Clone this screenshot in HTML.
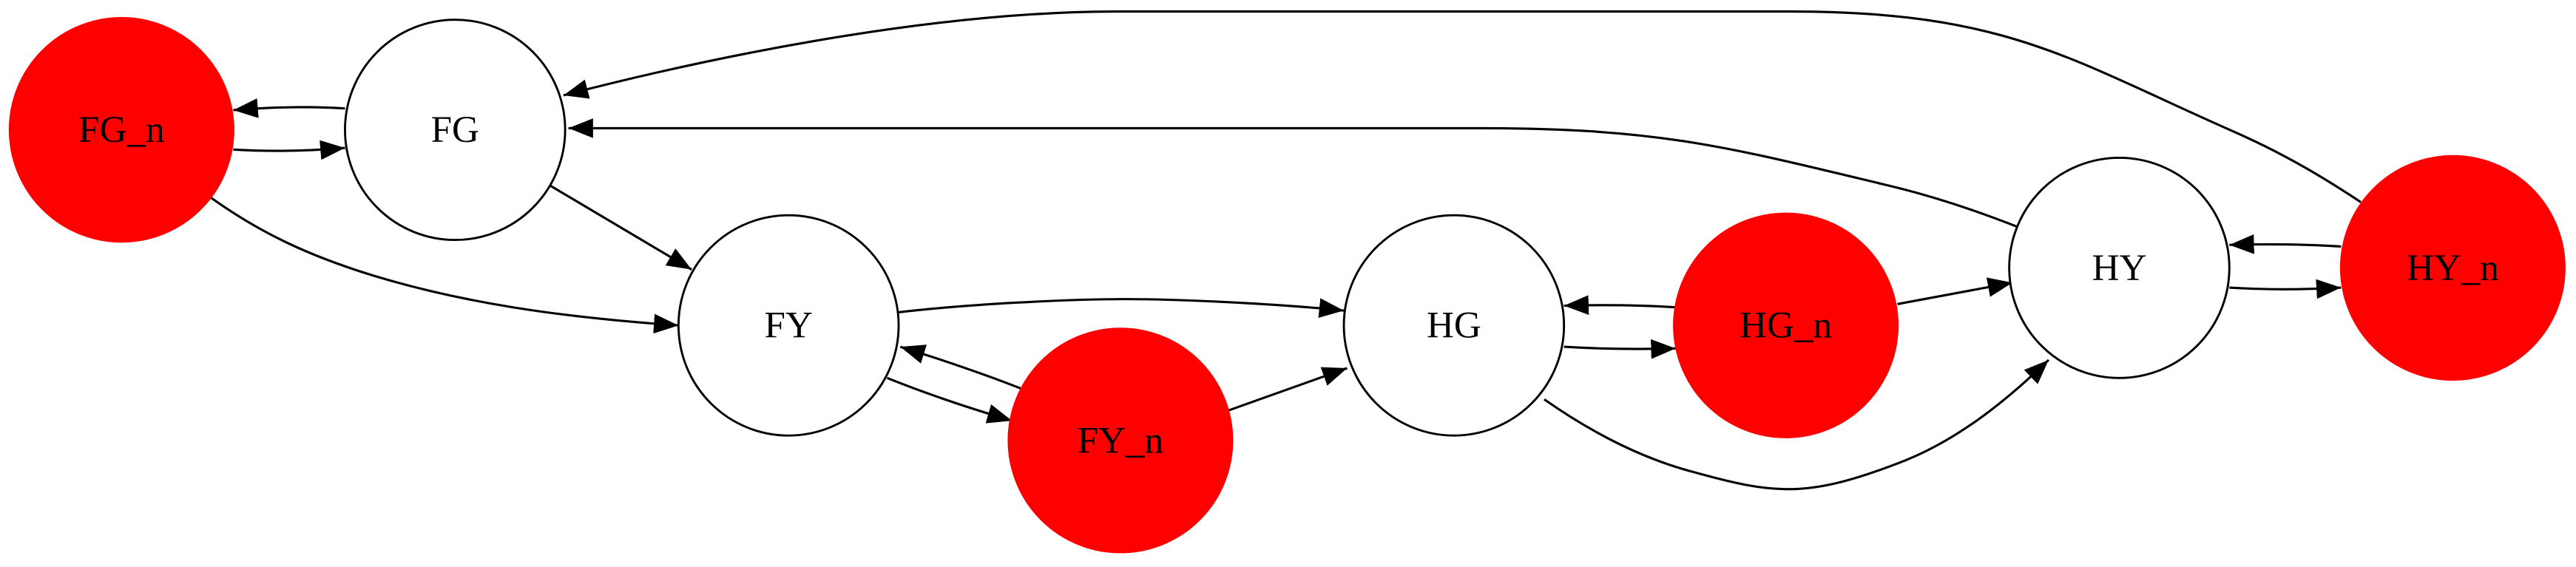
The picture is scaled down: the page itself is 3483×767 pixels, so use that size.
<!DOCTYPE html>
<html><head><meta charset="utf-8"><style>
html,body{margin:0;padding:0;background:#fff;overflow:hidden}
svg{display:block}
text{font-family:"Liberation Serif",serif;font-size:23px;text-anchor:middle;dominant-baseline:central}
</style></head><body>
<svg width="3483" height="767" viewBox="0 0 1568 345" preserveAspectRatio="none">
<defs>
<marker id="ah" markerUnits="userSpaceOnUse" markerWidth="16" markerHeight="12" refX="15" refY="6" orient="auto">
<path d="M0,0 L15,6 L0,12 Z" fill="#000"/>
</marker>
</defs>
<g fill="none" stroke="#000" stroke-width="1.4" marker-end="url(#ah)">
<path d="M210,66 Q180,64 142,67"/>
<path d="M142,91 Q175,93 210,90"/>
<path d="M335,113 L421,164"/>
<path d="M128,120 C160,143 190,156 225,167 C280,184 340,193 413,198"/>
<path d="M547,190 C590,185 650,182 685,182 C720,182 780,185 818,189"/>
<path d="M623,237 Q590,224 548,211"/>
<path d="M540,230 Q575,244 616,256"/>
<path d="M747,250 L820,224"/>
<path d="M1020,187 Q990,185 952,186"/>
<path d="M952,211 Q985,213 1020,212"/>
<path d="M1155,185 L1225,172"/>
<path d="M940,243 C970,264 1000,279 1030,287 C1080,301 1100,303 1155,282 C1190,269 1220,245 1247,219"/>
<path d="M1228,138 C1200,127 1175,119 1150,113 C1050,89 1010,78 900,78 L346,78"/>
<path d="M1437,123 C1410,105 1385,91 1355,78 C1260,36 1220,7 1090,7 L680,7 C560,7 420,38 343,58"/>
<path d="M1425,150 Q1395,148 1357,149"/>
<path d="M1357,175 Q1390,177 1425,175"/>
</g>
<g stroke="#000" stroke-width="1.3">
<circle cx="74" cy="79" r="68" fill="#ff0000" stroke="#ff0000"/>
<circle cx="277" cy="79" r="67" fill="#fff"/>
<circle cx="480" cy="198" r="67" fill="#fff"/>
<circle cx="682" cy="268" r="68" fill="#ff0000" stroke="#ff0000"/>
<circle cx="885" cy="198" r="67" fill="#fff"/>
<circle cx="1087" cy="198" r="68" fill="#ff0000" stroke="#ff0000"/>
<circle cx="1290" cy="163" r="67" fill="#fff"/>
<circle cx="1493" cy="163" r="68" fill="#ff0000" stroke="#ff0000"/>
</g>
<g fill="#000">
<text x="74" y="79">FG_n</text>
<text x="277" y="79">FG</text>
<text x="480" y="198">FY</text>
<text x="682" y="268">FY_n</text>
<text x="885" y="198">HG</text>
<text x="1087" y="198">HG_n</text>
<text x="1290" y="163">HY</text>
<text x="1493" y="163">HY_n</text>
</g>
</svg>
</body></html>
